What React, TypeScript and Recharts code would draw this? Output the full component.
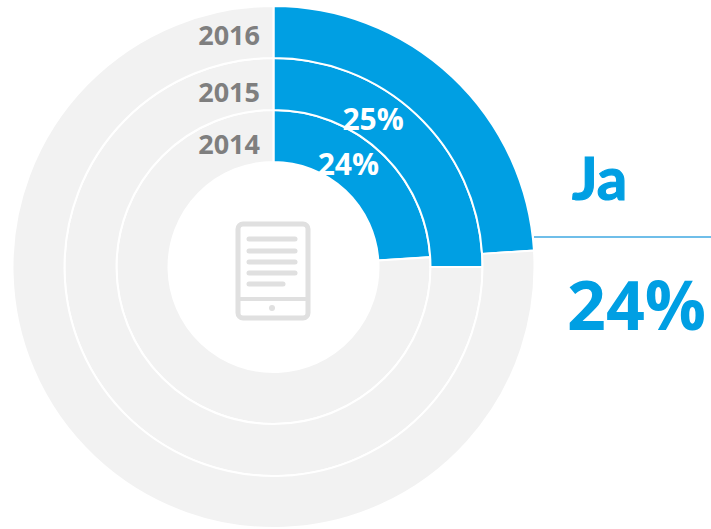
import { PieChart, Pie, Cell } from 'recharts';

const years = ['2014', '2015', '2016'];
const jaValues = [24, 25, 24];
const restValues = [76, 75, 76];
const innerRadii = [105, 157, 209];
const outerRadii = [157, 209, 261];
const labelSpots = [
  { radius: 128, angle: 35.8, fontSize: 30 },
  { radius: 179, angle: 33.8, fontSize: 30 },
];

const BLUE = '#009FE3';
const GREY = '#F2F2F2';
const ICON = '#E0E0E0';
const FONT = '"Open Sans", sans-serif';

const rings = years.map((year, i) => ({
  year,
  data: [
    { name: 'Ja', value: jaValues[i] },
    { name: 'Nein', value: restValues[i] },
  ],
}));

function percentLabel(ringIndex: number) {
  const spot = labelSpots[ringIndex];
  if (!spot) return false;
  return (props: any) => {
    if (props.index !== 0) return null;
    const rad = (spot.angle * Math.PI) / 180;
    return (
      <text
        x={props.cx + spot.radius * Math.sin(rad)}
        y={props.cy - spot.radius * Math.cos(rad)}
        fill="#fff"
        fontFamily={FONT}
        fontWeight={700}
        fontSize={spot.fontSize}
        textAnchor="middle"
        dominantBaseline="central"
      >
        {`${props.value}%`}
      </text>
    );
  };
}

export default function App() {
  return (
    <div style={{ position: 'absolute', left: 0, top: 0, width: 711, height: 529, fontFamily: FONT }}>
      <PieChart width={711} height={529} margin={{ top: 0, right: 0, bottom: 0, left: 0 }}>
        {rings.map((ring, i) => (
          <Pie
            key={ring.year}
            data={ring.data}
            dataKey="value"
            cx={273.5}
            cy={267}
            innerRadius={innerRadii[i]}
            outerRadius={outerRadii[i]}
            startAngle={90}
            endAngle={-270}
            stroke="#fff"
            strokeWidth={2}
            label={percentLabel(i)}
            labelLine={false}
            isAnimationActive={false}
          >
            <Cell fill={BLUE} />
            <Cell fill={GREY} />
          </Pie>
        ))}
      </PieChart>
      <svg width={711} height={529} style={{ position: 'absolute', left: 0, top: 0 }}>
        {/* year tags sit left of the start line */}
        <g fontFamily={FONT} fontWeight={700} fontSize={27} fill="#7F7F7F" textAnchor="end">
          <text x={260} y={45}>2016</text>
          <text x={260} y={102}>2015</text>
          <text x={260} y={154}>2014</text>
        </g>
        <line x1={534} x2={711} y1={237} y2={237} stroke="#3FA9E2" strokeWidth={1.5} />
        <text x={572} y={200} fontFamily="Lato, sans-serif" fontWeight={700} fontSize={60} fill={BLUE} stroke={BLUE} strokeWidth={1.2}>Ja</text>
        <text x={567} y={330} fontFamily={FONT} fontWeight={700} fontSize={68} fill={BLUE}>24%</text>
        {/* tablet icon */}
        <g fill="none" stroke={ICON}>
          <rect x={238} y={224} width={70} height={94} rx={5} strokeWidth={5} />
          <line x1={238} x2={308} y1={299} y2={299} strokeWidth={4} />
          <g strokeWidth={5} strokeLinecap="round">
            <line x1={249} x2={295} y1={239} y2={239} />
            <line x1={249} x2={295} y1={251} y2={251} />
            <line x1={249} x2={295} y1={262} y2={262} />
            <line x1={249} x2={295} y1={273} y2={273} />
            <line x1={249} x2={283} y1={284} y2={284} />
          </g>
        </g>
        <circle cx={272} cy={308} r={3} fill={ICON} />
      </svg>
    </div>
  );
}
